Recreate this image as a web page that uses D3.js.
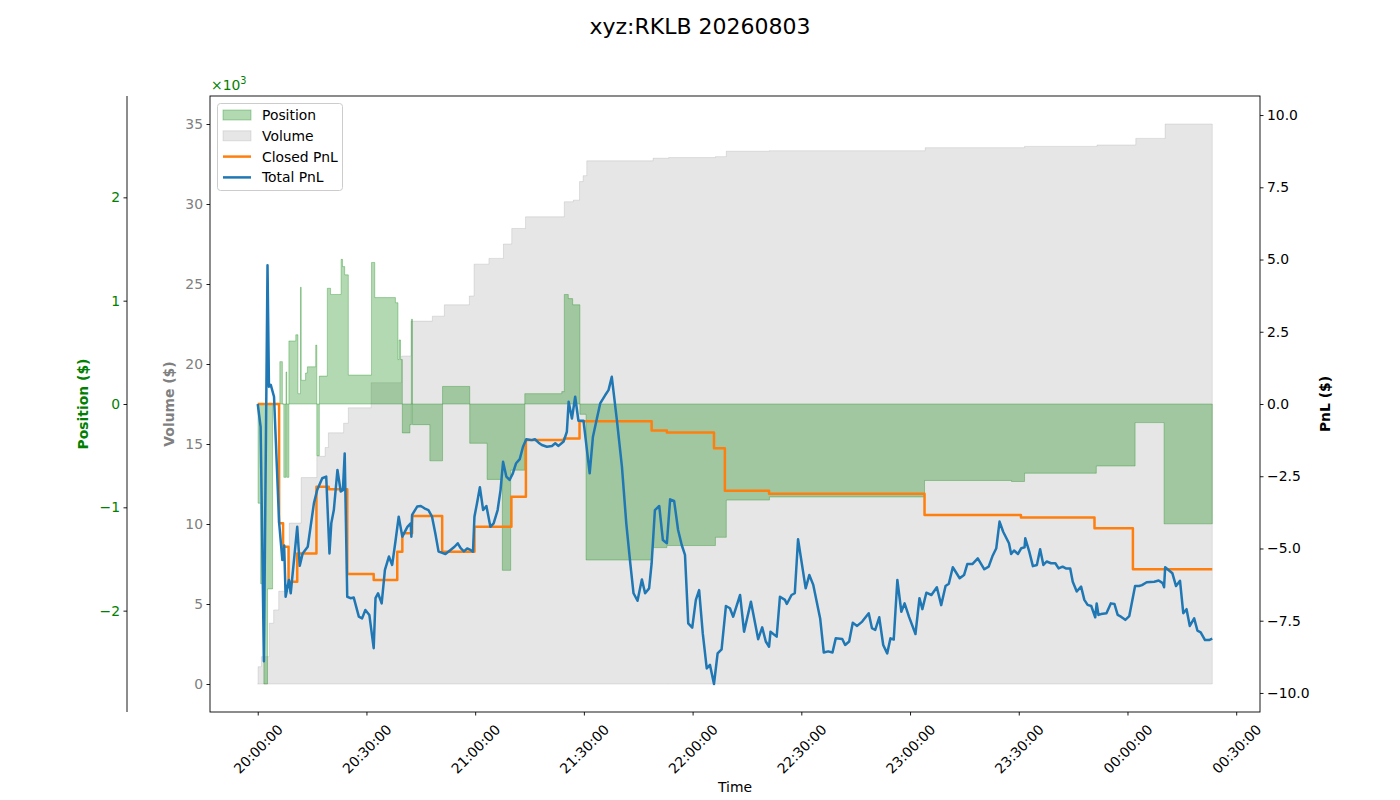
<!DOCTYPE html>
<html>
<head>
<meta charset="utf-8">
<script src="https://cdn.jsdelivr.net/npm/d3@7"></script>
<style>
  body { margin: 0; background: #fff; }
  svg { font-family: "DejaVu Sans", sans-serif; }
</style>
</head>
<body>
<div id="chart"></div>
<script>
// all times are minutes after 20:00:00 on 2026-08-03

// position ($), stepped
const posTimes = [
  0, 0.1, 0.8, 1.7, 2.7, 4.1, 6.1, 6.8, 7.2, 7.8,
  8.0, 8.6, 10.5, 11.1, 11.8, 12.0, 13.2, 13.7, 16.0, 16.3,
  17.0, 19.2, 20.1, 23.0, 23.4, 24.0, 25.0, 31.4, 32.3, 38.0,
  38.7, 39.0, 39.4, 39.9, 42.0, 42.4, 42.7, 47.5, 51.0, 58.5,
  63.3, 67.5, 69.8, 73.7, 83.9, 84.6, 85.7, 86.9, 88.9, 90.6,
  108.9, 112.9, 126.3, 129.3, 141.2, 184.0, 208.0, 211.6, 231.4, 242.1,
  250.1, 263.4
];
const posValues = [
  0, -960, -1740, -2710, -1790, 0, 410, 0, -710, 310,
  -710, 610, 670, 100, 1130, 230, 300, 360, 570, -500,
  270, 1120, 1060, 1400, 1330, 1250, 280, 1370, 1030, 980,
  430, 620, 430, -280, -200, 820, -200, -550, 170, -380,
  -730, -1610, -640, 100, 120, 1060, 1020, 960, -100, -1510,
  -1390, -1370, -1290, -930, -900, -740, -750, -670, -600, -180,
  -1160, -1160
];

// cumulative volume ($), stepped
const volTimes = [
  0, 0.1, 1.0, 3.2, 4.4, 5.8, 8.7, 12.0, 16.3, 18.6,
  19.5, 23.7, 25.0, 31.3, 39.7, 42.3, 48.2, 51.5, 58.4, 59.7,
  63.8, 67.8, 70.1, 73.9, 84.6, 87.1, 88.8, 89.8, 90.8, 109.1,
  113.4, 126.3, 129.3, 141.2, 184.2, 211.6, 231.6, 242.3, 250.4, 263.4
];
const volValues = [
  0, 1080, 1710, 3800, 4630, 5800, 10060, 12900, 14230, 14780,
  15700, 16300, 17260, 18830, 20500, 22680, 22990, 23700, 24250, 26240,
  26600, 27500, 28470, 29200, 30140, 30240, 31400, 31770, 32700, 32860,
  32900, 32960, 33300, 33330, 33520, 33600, 33690, 34100, 35000, 35000
];

// closed PnL ($), stepped
const closedTimes = [
  0, 5.9, 7.0, 8.5, 10.9, 16.2, 19.6, 24.7, 32.0, 38.5,
  39.9, 42.6, 50.9, 59.8, 70.0, 74.0, 84.5, 88.8, 108.7, 112.9,
  125.9, 128.9, 141.1, 184.0, 210.6, 230.9, 241.5, 263.4
];
const closedValues = [
  0, -4.13, -4.94, -6.15, -5.17, -2.86, -2.95, -5.88, -6.09, -5.11,
  -4.47, -3.88, -5.11, -4.25, -3.21, -1.25, -1.19, -0.6, -0.92, -0.99,
  -1.53, -3.0, -3.11, -3.84, -3.93, -4.3, -5.72, -5.72
];

// total PnL ($)
const totalTimes = [
  0, 0.8, 1.7, 2.7, 3.1, 3.6, 4.5, 5.9, 6.8, 7.3,
  7.7, 8.6, 9.1, 10.1, 10.9, 11.6, 12.4, 13.8, 15.5, 16.4,
  17.8, 18.9, 19.8, 20.3, 21.0, 22.0, 22.9, 23.5, 24.0, 24.7,
  25.6, 26.5, 27.9, 28.8, 29.7, 30.8, 32.0, 32.5, 33.2, 34.2,
  35.1, 36.2, 37.1, 38.0, 38.9, 39.9, 41.3, 42.2, 42.4, 42.6,
  44.0, 45.0, 46.0, 47.1, 48.1, 49.0, 49.9, 50.9, 51.8, 53.2,
  54.3, 55.2, 56.0, 56.9, 57.8, 58.7, 59.4, 59.8, 60.5, 61.3,
  62.2, 63.1, 64.2, 65.1, 66.2, 67.0, 67.7, 68.6, 69.5, 70.4,
  71.3, 72.3, 73.2, 74.1, 75.6, 76.5, 77.5, 78.4, 79.8, 81.2,
  82.1, 83.0, 84.4, 85.3, 85.8, 86.7, 87.6, 88.5, 89.9, 91.6,
  92.5, 93.5, 94.5, 95.9, 96.8, 97.7, 99.1, 100.5, 101.7, 102.8,
  103.7, 104.8, 106.0, 106.9, 108.0, 108.7, 109.6, 110.8, 111.8, 112.9,
  113.8, 114.9, 116.0, 117.0, 117.9, 118.8, 119.9, 120.9, 121.8, 122.8,
  123.9, 124.8, 125.9, 126.9, 128.0, 129.2, 130.3, 131.2, 133.1, 134.2,
  136.1, 138.1, 139.2, 140.2, 141.1, 141.5, 143.2, 144.1, 145.5, 146.0,
  147.3, 148.2, 149.1, 151.2, 152.2, 153.3, 155.2, 156.2, 157.4, 158.6,
  159.5, 161.3, 162.1, 163.2, 164.2, 165.4, 166.8, 168.6, 169.5, 170.4,
  171.5, 172.6, 173.7, 174.6, 175.5, 176.5, 177.6, 178.5, 179.7, 181.5,
  182.6, 183.4, 184.5, 185.9, 187.4, 188.6, 189.8, 190.7, 191.8, 193.7,
  194.9, 195.8, 197.2, 198.7, 200.5, 201.7, 202.7, 203.8, 204.7, 205.7,
  207.3, 207.9, 208.7, 209.8, 210.7, 211.6, 211.8, 212.9, 213.9, 215.0,
  215.9, 216.8, 217.7, 218.9, 220.1, 221.0, 222.1, 223.0, 224.2, 224.9,
  226.0, 227.2, 228.1, 229.0, 230.0, 231.1, 231.5, 232.0, 232.7, 234.2,
  235.4, 236.4, 237.3, 238.2, 239.4, 240.5, 242.1, 243.2, 244.0, 245.3,
  247.4, 248.6, 249.7, 250.1, 250.4, 252.4, 253.4, 254.5, 255.4, 256.3,
  257.2, 258.4, 259.3, 260.2, 261.4, 262.5, 263.4
];
const totalValues = [
  0, -0.79, -8.9, 4.8, 0.6, 0.66, 0.25, -4.1, -5.4, -4.9,
  -6.67, -6.09, -6.55, -5.28, -4.25, -5.6, -5.17, -4.94, -3.44, -2.98,
  -2.57, -2.51, -5.17, -4.13, -3.67, -2.28, -3.03, -2.98, -1.71, -6.67,
  -6.72, -6.7, -7.36, -7.42, -7.13, -7.3, -8.45, -6.72, -6.55, -6.9,
  -5.74, -5.28, -5.57, -4.76, -3.9, -4.59, -4.25, -4.13, -4.59, -3.84,
  -3.55, -3.53, -3.61, -3.67, -3.9, -4.47, -5.11, -5.15, -5.19, -5.05,
  -4.94, -4.82, -4.99, -5.1, -5.0, -5.05, -5.11, -3.9, -3.44, -2.88,
  -3.67, -3.53, -4.25, -4.13, -3.67, -2.98, -2.0, -2.51, -2.63, -2.4,
  -2.05, -1.91, -1.48, -1.22, -1.25, -1.22, -1.34, -1.42, -1.48, -1.45,
  -1.36, -1.45, -1.3, -0.96, 0.08, -0.5, 0.25, -0.58, -0.58, -2.4,
  -1.13, -0.55, 0.02, 0.31, 0.48, 0.94, -0.55, -2.17, -4.13, -5.51,
  -6.55, -6.81, -6.07, -6.55, -6.38, -5.51, -3.67, -3.53, -4.71, -4.82,
  -3.3, -3.35, -4.36, -4.88, -5.22, -7.59, -7.74, -6.78, -6.44, -7.93,
  -9.15, -9.03, -9.69, -8.63, -8.49, -6.99, -7.07, -7.36, -6.61, -7.88,
  -6.84, -8.14, -7.73, -8.22, -8.4, -7.88, -8.05, -6.67, -6.78, -6.92,
  -6.61, -6.55, -4.68, -6.38, -5.92, -6.26, -7.42, -8.6, -8.56, -8.6,
  -8.11, -8.13, -8.34, -8.22, -7.57, -7.68, -7.53, -7.24, -7.76, -7.82,
  -7.38, -8.34, -8.63, -8.11, -8.15, -6.09, -7.19, -6.9, -7.36, -7.96,
  -6.72, -7.1, -6.53, -6.61, -6.34, -6.96, -6.3, -6.22, -5.65, -6.03,
  -5.92, -5.54, -5.54, -5.34, -5.72, -5.63, -5.28, -4.99, -4.07, -4.42,
  -4.82, -5.19, -5.07, -5.19, -4.99, -4.96, -4.65, -5.11, -5.61, -5.57,
  -5.03, -5.57, -5.45, -5.51, -5.51, -5.69, -5.63, -5.69, -5.69, -6.15,
  -6.49, -6.32, -6.78, -6.95, -6.99, -7.38, -6.9, -7.3, -7.27, -7.24,
  -6.9, -6.92, -7.3, -7.36, -7.47, -7.34, -6.3, -6.3, -6.27, -6.17,
  -6.15, -6.11, -6.2, -6.34, -5.65, -5.86, -6.3, -6.12, -7.24, -7.1,
  -7.68, -7.42, -7.84, -7.9, -8.17, -8.17, -8.12
];

// tick values
const xTickMinutes = [0, 30, 60, 90, 120, 150, 180, 210, 240, 270];
const volTicks = [0, 5000, 10000, 15000, 20000, 25000, 30000, 35000];
const posTicks = [-2000, -1000, 0, 1000, 2000];
const pnlTicks = [-10, -7.5, -5, -2.5, 0, 2.5, 5, 7.5, 10];

const start = new Date(2026, 7, 3, 20, 0, 0);
const toDate = m => new Date(start.getTime() + m * 60000);
const zip = (ts, vs) => ts.map((t, i) => ({ t: toDate(t), v: vs[i] }));

const posData = zip(posTimes, posValues);
const volData = zip(volTimes, volValues);
const closedData = zip(closedTimes, closedValues);
const totalData = zip(totalTimes, totalValues);

const width = 1400, height = 800;
const plotLeft = 210, plotRight = 1260, plotTop = 96, plotBottom = 712;
const fontSize = 13.9;

const svg = d3.select("#chart").append("svg")
  .attr("width", width)
  .attr("height", height);

// x scale, padded 5% like matplotlib
const allTimes = [...posTimes, ...volTimes, ...closedTimes, ...totalTimes];
const [tMin, tMax] = d3.extent(allTimes);
const tPad = (tMax - tMin) * 0.05;
const x = d3.scaleTime()
  .domain([toDate(tMin - tPad), toDate(tMax + tPad)])
  .range([plotLeft, plotRight]);

const volMax = d3.max(volValues);
const yVol = d3.scaleLinear().domain([-volMax * 0.05, volMax * 1.05]).range([plotBottom, plotTop]);
const posLim = d3.max(posValues, Math.abs) * 1.1;
const yPos = d3.scaleLinear().domain([-posLim, posLim]).range([plotBottom, plotTop]);
const pnlLim = d3.max([...closedValues, ...totalValues], Math.abs) * 1.1;
const yPnl = d3.scaleLinear().domain([-pnlLim, pnlLim]).range([plotBottom, plotTop]);

// volume area
svg.append("path")
  .datum(volData)
  .attr("d", d3.area().curve(d3.curveStepAfter)
    .x(d => x(d.t)).y0(yVol(0)).y1(d => yVol(d.v)))
  .attr("fill", "gray").attr("fill-opacity", 0.2)
  .attr("stroke", "gray").attr("stroke-opacity", 0.2).attr("stroke-width", 1);

// position area
svg.append("path")
  .datum(posData)
  .attr("d", d3.area().curve(d3.curveStepAfter)
    .x(d => x(d.t)).y0(yPos(0)).y1(d => yPos(d.v)))
  .attr("fill", "green").attr("fill-opacity", 0.3)
  .attr("stroke", "green").attr("stroke-opacity", 0.3).attr("stroke-width", 1);

// closed pnl
svg.append("path")
  .datum(closedData)
  .attr("d", d3.line().curve(d3.curveStepAfter).x(d => x(d.t)).y(d => yPnl(d.v)))
  .attr("fill", "none").attr("stroke", "#ff7f0e").attr("stroke-width", 2.5)
  .attr("stroke-linejoin", "round");

// total pnl
svg.append("path")
  .datum(totalData)
  .attr("d", d3.line().x(d => x(d.t)).y(d => yPnl(d.v)))
  .attr("fill", "none").attr("stroke", "#1f77b4").attr("stroke-width", 2.5)
  .attr("stroke-linejoin", "round");

// frame
svg.append("rect")
  .attr("x", plotLeft).attr("y", plotTop)
  .attr("width", plotRight - plotLeft).attr("height", plotBottom - plotTop)
  .attr("fill", "none").attr("stroke", "#000").attr("stroke-width", 0.9);

const styleAxis = (g, color) => {
  g.select(".domain").remove();
  g.attr("font-size", fontSize).attr("font-family", "DejaVu Sans").attr("color", "#000");
  g.selectAll(".tick line").attr("stroke-width", 0.9);
  g.selectAll(".tick text").attr("fill", color);
};

// x axis
const xAxis = svg.append("g")
  .attr("transform", `translate(0,${plotBottom})`)
  .call(d3.axisBottom(x)
    .tickValues(xTickMinutes.map(toDate))
    .tickFormat(d3.timeFormat("%H:%M:%S"))
    .tickSize(3.5));
styleAxis(xAxis, "#000");
xAxis.selectAll(".tick text")
  .attr("y", 0).attr("dy", null)
  .attr("text-anchor", "middle")
  .attr("dominant-baseline", "central")
  .attr("transform", "translate(0,37) rotate(-45)");

// volume axis
const volAxis = svg.append("g")
  .attr("transform", `translate(${plotLeft},0)`)
  .call(d3.axisLeft(yVol).tickValues(volTicks).tickFormat(d => d / 1000).tickSize(3.5).tickPadding(3.5));
styleAxis(volAxis, "gray");

// position axis, pushed outward
const posX = 127;
const posAxis = svg.append("g")
  .attr("transform", `translate(${posX},0)`)
  .call(d3.axisLeft(yPos).tickValues(posTicks).tickFormat(d => d3.format("d")(d / 1000)).tickSize(3.5).tickPadding(3.5));
styleAxis(posAxis, "green");
svg.append("line")
  .attr("x1", posX).attr("x2", posX).attr("y1", plotTop).attr("y2", plotBottom)
  .attr("stroke", "#000").attr("stroke-width", 0.9);

// pnl axis
const pnlAxis = svg.append("g")
  .attr("transform", `translate(${plotRight},0)`)
  .call(d3.axisRight(yPnl).tickValues(pnlTicks).tickFormat(d3.format(".1f")).tickSize(3.5).tickPadding(3.5));
styleAxis(pnlAxis, "#000");

// axis labels
const yLabel = (cx, text, color) => svg.append("text")
  .attr("transform", `translate(${cx},${(plotTop + plotBottom) / 2}) rotate(-90)`)
  .attr("text-anchor", "middle").attr("dominant-baseline", "central")
  .attr("font-size", fontSize).attr("font-weight", "bold")
  .attr("fill", color).text(text);
yLabel(82.5, "Position ($)", "green");
yLabel(168.5, "Volume ($)", "gray");
yLabel(1324.5, "PnL ($)", "#000");

svg.append("text")
  .attr("x", (plotLeft + plotRight) / 2).attr("y", 792)
  .attr("text-anchor", "middle").attr("font-size", fontSize)
  .text("Time");

// offset text for position axis
const off = svg.append("text")
  .attr("x", plotLeft + 1).attr("y", 90)
  .attr("font-size", fontSize).attr("fill", "green");
off.append("tspan").text("×10");
off.append("tspan").attr("dy", -6).attr("font-size", 9.7).text("3");

// title
svg.append("text")
  .attr("x", width / 2).attr("y", 34)
  .attr("text-anchor", "middle").attr("font-size", 22)
  .text("xyz:RKLB 20260803");

// legend
const legend = svg.append("g").attr("transform", "translate(217.5,103.5)");
legend.append("rect")
  .attr("width", 125).attr("height", 87).attr("rx", 3)
  .attr("fill", "#fff").attr("fill-opacity", 0.8)
  .attr("stroke", "#cccccc").attr("stroke-width", 1);
const items = [
  { label: "Position", kind: "patch", fill: "green", op: 0.3 },
  { label: "Volume", kind: "patch", fill: "gray", op: 0.2 },
  { label: "Closed PnL", kind: "line", stroke: "#ff7f0e" },
  { label: "Total PnL", kind: "line", stroke: "#1f77b4" }
];
items.forEach((it, i) => {
  const cy = 11.5 + i * 20.8;
  if (it.kind === "patch") {
    legend.append("rect")
      .attr("x", 5.5).attr("y", cy - 5).attr("width", 28).attr("height", 10)
      .attr("fill", it.fill).attr("fill-opacity", it.op)
      .attr("stroke", it.fill).attr("stroke-opacity", it.op);
  } else {
    legend.append("line")
      .attr("x1", 5.5).attr("x2", 33.5).attr("y1", cy).attr("y2", cy)
      .attr("stroke", it.stroke).attr("stroke-width", 2.5);
  }
  legend.append("text")
    .attr("x", 44.5).attr("y", cy)
    .attr("dominant-baseline", "central")
    .attr("font-size", fontSize)
    .text(it.label);
});
</script>
</body>
</html>
